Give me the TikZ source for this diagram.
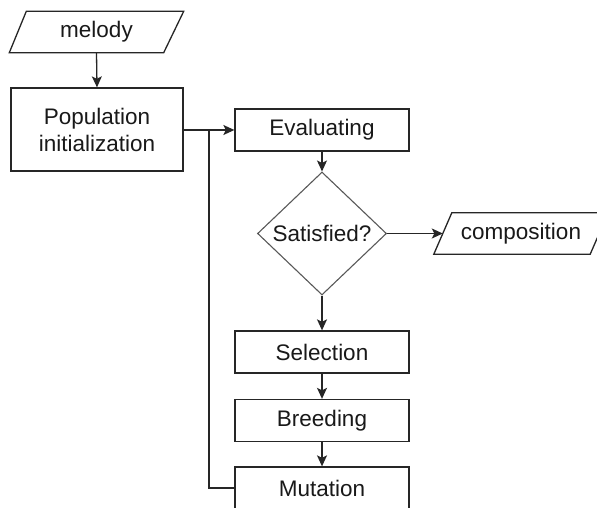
\documentclass[tikz,border=0pt]{standalone}
\usepackage{fontspec}
\setmainfont{Liberation Sans}
\usetikzlibrary{shapes.geometric,arrows.meta}
\begin{document}
\begin{tikzpicture}[x=1pt,y=-1pt,
  lbl/.style={font=\fontsize{22.5}{27}\selectfont, text=black!90},
  procbox/.style={lbl, draw=black!85, line width=1.3pt, minimum width=174pt, minimum height=42pt, inner sep=0pt, align=center},
  iobox/.style={lbl, minimum width=174pt, minimum height=41pt, inner sep=0pt},
  iolines/.style={draw=black!85, line width=1.3pt, line join=miter},
  decide/.style={lbl, diamond, draw=black!65, line width=1.1pt, minimum width=129pt, minimum height=123pt, inner sep=0pt, aspect=1},
  conn/.style={draw=black!85, line width=1.3pt},
  arr/.style={conn, -{Stealth[length=11pt,width=10pt,inset=2.5pt]}}
]
\useasboundingbox (0,0) rectangle (597,508);
\clip (0,0) rectangle (597,508);
\fill[white] (0,0) rectangle (597,508);

\node[iobox] (melody) at (96.5,32) {melody};
\draw[iolines] ([xshift=17pt]melody.north west) -- (melody.north east) -- ([xshift=-20pt]melody.south east) -- (melody.south west) -- cycle;

\node[procbox, minimum width=172pt, minimum height=83pt] (pop) at (97,129.5) {Population\\initialization};

\node[procbox] (eval) at (322,130) {Evaluating};
\node[decide] (sat) at (322,233.5) {\makebox[0pt]{Satisfied?}};

\node[iobox] (comp) at (521,233.5) {composition};
\draw[iolines] ([xshift=18pt]comp.north west) -- (comp.north east) -- ([xshift=-18pt]comp.south east) -- (comp.south west) -- cycle;

\node[procbox] (sel) at (322,352) {Selection};
\node[procbox] (breed) at (322,420.5) {Breeding};
\node[procbox] (mut) at (322,488) {Mutation};

\coordinate (jn) at (209,130);

\draw[arr] (melody.south) -- (pop.north);
\draw[arr] (pop.east |- eval.west) -- (eval.west);
\draw[conn] (mut.west) -| (jn);
\draw[arr] (eval.south) -- (sat.north);
\draw[arr] (sat.east) -- ([xshift=9pt]comp.west);
\draw[arr] (sat.south) -- (sel.north);
\draw[arr] (sel.south) -- (breed.north);
\draw[arr] (breed.south) -- (mut.north);
\end{tikzpicture}
\end{document}
